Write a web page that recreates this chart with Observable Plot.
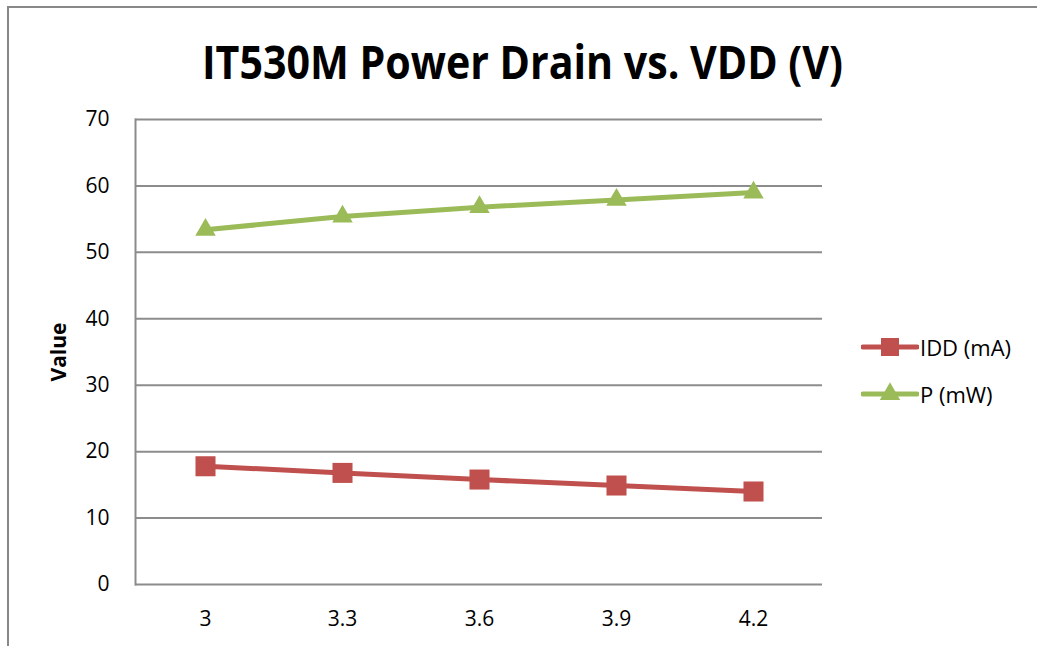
<!DOCTYPE html>
<html>
<head>
<meta charset="utf-8">
<script src="https://cdn.jsdelivr.net/npm/d3@7"></script>
<script src="https://cdn.jsdelivr.net/npm/@observablehq/plot@0.6"></script>
<style>
  html, body { margin: 0; padding: 0; background: #fff; }
  #wrap { position: relative; width: 1037px; height: 646px; overflow: hidden; font-family: "Open Sans", sans-serif; color: #000; }
  #border { position: absolute; left: 7px; top: 6px; width: 1100px; height: 700px; border-top: 2px solid #888; border-left: 2px solid #888; }
  #title { position: absolute; top: 28px; left: 0; width: 1044px; text-align: center; font-weight: bold; font-size: 46px; line-height: 66px; white-space: nowrap; }
  #title span { display: inline-block; transform-origin: center; }
  #ylabel { position: absolute; left: 58px; top: 352px; transform: translate(-50%, -50%) rotate(-90deg); font-weight: bold; font-size: 21px; white-space: nowrap; }
  #plot { position: absolute; left: 0; top: 0; }
  .leg { position: absolute; left: 861px; display: flex; align-items: center; font-size: 22px; white-space: nowrap; }
  .leg svg { margin-right: 1px; }
</style>
</head>
<body>
<div id="wrap">
  <div id="border"></div>
  <div id="plot"></div>
  <div id="title"><span id="titleText">IT530M Power Drain vs. VDD (V)</span></div>
  <div id="ylabel">Value</div>
  <div id="legend"></div>
</div>
<script>
// Data
const voltages = ["3", "3.3", "3.6", "3.9", "4.2"];
const iddValues = [17.8, 16.8, 15.8, 14.9, 14.0];
const powerValues = [53.4, 55.4, 56.8, 57.9, 59.0];
const yTicks = [0, 10, 20, 30, 40, 50, 60, 70];
const seriesNames = ["IDD (mA)", "P (mW)"];
const seriesColors = ["#C0504D", "#9BBB59"];
const seriesSymbols = ["square", "triangle"];

const idd = voltages.map((v, i) => ({v, value: iddValues[i]}));
const pw = voltages.map((v, i) => ({v, value: powerValues[i]}));

const chart = Plot.plot({
  width: 1037,
  height: 646,
  marginLeft: 135,
  marginRight: 215,
  marginTop: 119,
  marginBottom: 62,
  style: { fontFamily: "Open Sans, sans-serif", fontSize: "21px", background: "transparent", color: "#000" },
  x: { type: "point", domain: voltages, padding: 0.5, align: 0.5 },
  y: { domain: [0, 70] },
  marks: [
    Plot.ruleY(yTicks, { stroke: "#8c8c8c", strokeWidth: 2 }),
    Plot.frame({ anchor: "left", stroke: "#8c8c8c", strokeWidth: 2 }),
    Plot.axisX({ tickSize: 0, tickPadding: 27, label: null, fontSize: 21 }),
    Plot.axisY({ ticks: yTicks, tickSize: 0, tickPadding: 26, label: null, fontSize: 21 }),
    Plot.line(idd, { x: "v", y: "value", stroke: seriesColors[0], strokeWidth: 5 }),
    Plot.dot(idd, { x: "v", y: "value", symbol: seriesSymbols[0], r: 11.3, fill: seriesColors[0], stroke: "none" }),
    Plot.line(pw, { x: "v", y: "value", stroke: seriesColors[1], strokeWidth: 5 }),
    Plot.dot(pw, { x: "v", y: "value", symbol: seriesSymbols[1], r: 7.6, fill: seriesColors[1], stroke: "none" })
  ]
});
d3.select(chart).selectAll("text").style("font-size", "21px").style("font-family", "'Open Sans', sans-serif");
document.getElementById("plot").appendChild(chart);

// Title fitting (Calibri-like narrow width)
const t = document.getElementById("titleText");
const w = t.getBoundingClientRect().width;
t.style.transform = `scaleX(${641 / w})`;

// Legend
const legend = document.getElementById("legend");
const legTops = [347, 394];
seriesNames.forEach((name, i) => {
  const row = document.createElement("div");
  row.className = "leg";
  row.style.top = (legTops[i] - 15) + "px";
  const sym = d3.symbol(seriesSymbols[i] === "square" ? d3.symbolSquare : d3.symbolTriangle,
                        seriesSymbols[i] === "square" ? 324 : 180)();
  row.innerHTML = `<svg width="58" height="30" viewBox="0 0 58 30">
      <line x1="2" x2="56" y1="15" y2="15" stroke="${seriesColors[i]}" stroke-width="5" stroke-linecap="round"/>
      <path d="${sym}" transform="translate(29,15)" fill="${seriesColors[i]}"/>
    </svg><span>${name}</span>`;
  legend.appendChild(row);
});
</script>
</body>
</html>
